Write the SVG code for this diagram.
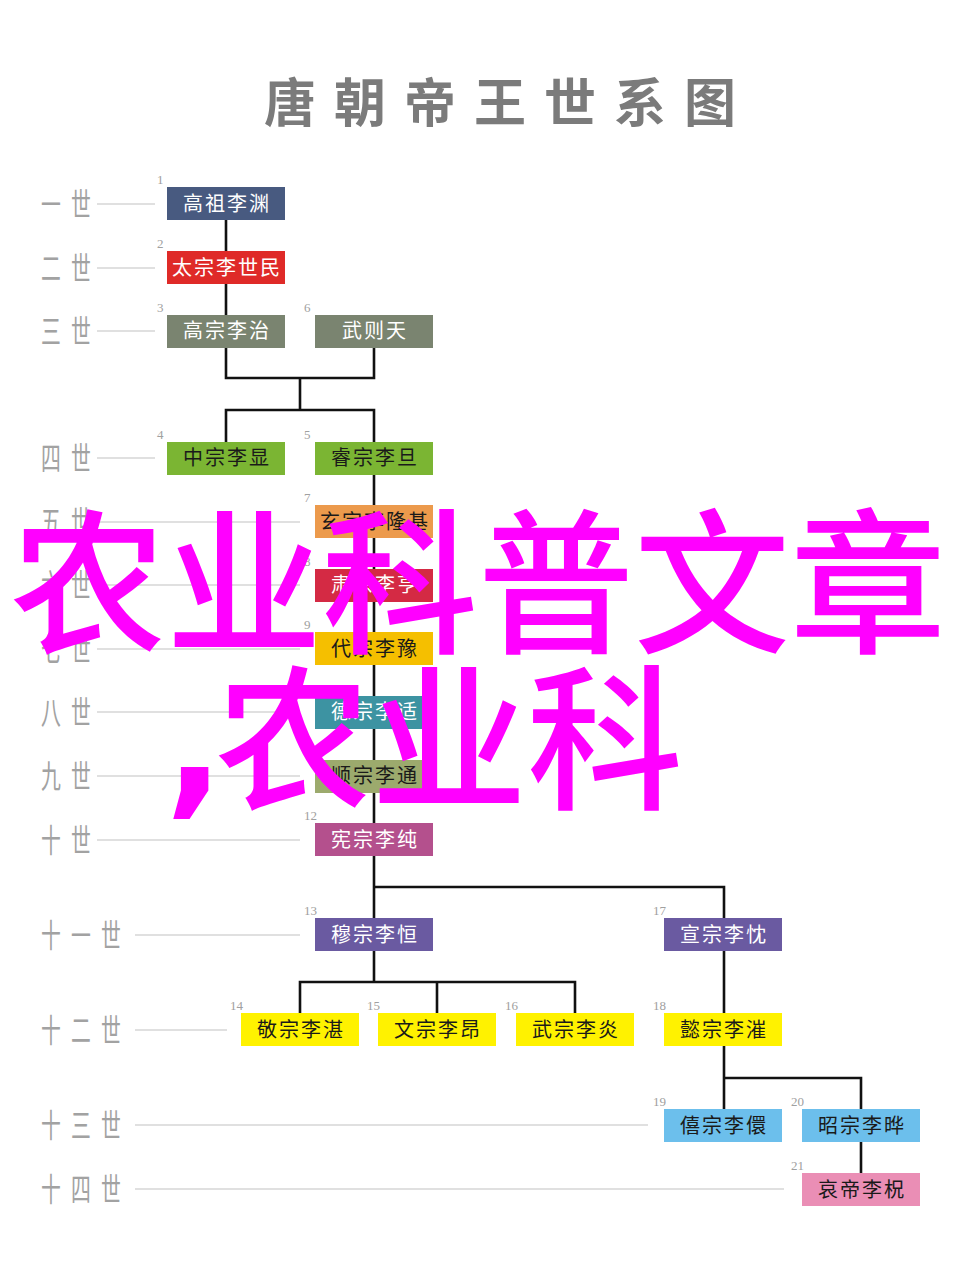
<svg xmlns="http://www.w3.org/2000/svg" width="960" height="1279" viewBox="0 0 960 1279">
<style>
.bg{fill:#ffffff}
.title{font-family:"Noto Sans CJK SC","Noto Sans CJK JP",sans-serif;font-size:52px;font-weight:700;fill:#7b7b7b;letter-spacing:18px}
.gen{font-family:"Noto Sans CJK SC","Noto Sans CJK JP",sans-serif;font-size:32px;font-weight:400;fill:#a2a2a2}
.gl{stroke:#d6d6d6;stroke-width:1.5;fill:none}
.num{font-family:"Liberation Serif",serif;font-size:13px;fill:#a0a0a0}
.box{stroke:none}
.nt{font-family:"Noto Sans CJK SC","Noto Sans CJK JP",sans-serif;font-size:20px;letter-spacing:2px;text-anchor:middle}
.w{fill:#ffffff}
.k{fill:#1a1a1a}
.conn{stroke:#111111;stroke-width:2.6;fill:none;stroke-linejoin:miter;stroke-linecap:square}
.ov{font-family:"Noto Sans CJK SC","Noto Sans CJK JP",sans-serif;font-size:156px;font-weight:500;fill:#ff00ff}
.cm{font-family:"DejaVu Sans",sans-serif;font-weight:700}
</style>
<rect class="bg" x="0" y="0" width="960" height="1279"/>
<text class="title" x="264" y="122">唐朝帝王世系图</text>

<g id="generations">
<g class="gen">
<text transform="translate(41,216) scale(0.62,1)" x="0 48.4">一世</text>
<text transform="translate(41,280) scale(0.62,1)" x="0 48.4">二世</text>
<text transform="translate(41,343) scale(0.62,1)" x="0 48.4">三世</text>
<text transform="translate(41,470) scale(0.62,1)" x="0 48.4">四世</text>
<text transform="translate(41,534) scale(0.62,1)" x="0 48.4">五世</text>
<text transform="translate(41,597) scale(0.62,1)" x="0 48.4">六世</text>
<text transform="translate(41,661) scale(0.62,1)" x="0 48.4">七世</text>
<text transform="translate(41,724) scale(0.62,1)" x="0 48.4">八世</text>
<text transform="translate(41,788) scale(0.62,1)" x="0 48.4">九世</text>
<text transform="translate(41,852) scale(0.62,1)" x="0 48.4">十世</text>
<text transform="translate(41,947) scale(0.62,1)" x="0 48.4 96.8">十一世</text>
<text transform="translate(41,1042) scale(0.62,1)" x="0 48.4 96.8">十二世</text>
<text transform="translate(41,1137) scale(0.62,1)" x="0 48.4 96.8">十三世</text>
<text transform="translate(41,1201) scale(0.62,1)" x="0 48.4 96.8">十四世</text>
</g>
<path class="gl" d="M97 204H155M97 268H155M97 331H155M97 458H155M97 522H300M97 585H300M97 649H300M97 712H300M97 776H300M97 840H300M135 935H300M135 1030H227M135 1125H648M135 1189H784"/>
</g>

<g id="connectors">
<path class="conn" d="M226 220V251M226 284V315M226 347V378H374V347M300 378V410M226 442V410H374V442M374 475V918M374 887H724V918M300 1013V982H575V1013M437 982V1013M374 951V982M724 951V1013M724 1046V1109M724 1078H861V1109M861 1142V1173"/>
</g>

<g id="n1"><rect class="box" x="167" y="187" width="118" height="33" fill="#485a80"/><text class="nt w" x="227" y="211">高祖李渊</text><text class="num" x="157" y="184">1</text></g>
<g id="n2"><rect class="box" x="167" y="251" width="118" height="33" fill="#df2a28"/><text class="nt w" x="227" y="275">太宗李世民</text><text class="num" x="157" y="248">2</text></g>
<g id="n3"><rect class="box" x="167" y="315" width="118" height="33" fill="#7a8470"/><text class="nt w" x="227" y="338">高宗李治</text><text class="num" x="157" y="312">3</text></g>
<g id="n6"><rect class="box" x="315" y="315" width="118" height="33" fill="#7a8470"/><text class="nt w" x="375" y="338">武则天</text><text class="num" x="304" y="312">6</text></g>
<g id="n4"><rect class="box" x="167" y="442" width="118" height="33" fill="#7bb533"/><text class="nt k" x="227" y="465">中宗李显</text><text class="num" x="157" y="439">4</text></g>
<g id="n5"><rect class="box" x="315" y="442" width="118" height="33" fill="#7bb533"/><text class="nt k" x="375" y="465">睿宗李旦</text><text class="num" x="304" y="439">5</text></g>
<g id="n7"><rect class="box" x="315" y="505" width="118" height="33" fill="#ec9a4c"/><text class="nt k" x="375" y="529">玄宗李隆基</text><text class="num" x="304" y="502">7</text></g>
<g id="n8"><rect class="box" x="315" y="569" width="118" height="33" fill="#d42a44"/><text class="nt w" x="375" y="592">肃宗李亨</text><text class="num" x="304" y="566">8</text></g>
<g id="n9"><rect class="box" x="315" y="632" width="118" height="33" fill="#f5bf00"/><text class="nt k" x="375" y="656">代宗李豫</text><text class="num" x="304" y="629">9</text></g>
<g id="n10"><rect class="box" x="315" y="696" width="118" height="33" fill="#3d93a2"/><text class="nt w" x="375" y="719">德宗李适</text><text class="num" x="304" y="693">10</text></g>
<g id="n11"><rect class="box" x="315" y="760" width="118" height="33" fill="#9caa6d"/><text class="nt k" x="375" y="783">顺宗李通</text><text class="num" x="304" y="757">11</text></g>
<g id="n12"><rect class="box" x="315" y="823" width="118" height="33" fill="#b4508d"/><text class="nt w" x="375" y="847">宪宗李纯</text><text class="num" x="304" y="820">12</text></g>
<g id="n13"><rect class="box" x="315" y="918" width="118" height="33" fill="#6a5aa1"/><text class="nt w" x="375" y="942">穆宗李恒</text><text class="num" x="304" y="915">13</text></g>
<g id="n17"><rect class="box" x="664" y="918" width="118" height="33" fill="#6a5aa1"/><text class="nt w" x="724" y="942">宣宗李忱</text><text class="num" x="653" y="915">17</text></g>
<g id="n14"><rect class="box" x="241" y="1013" width="118" height="33" fill="#fff200"/><text class="nt k" x="301" y="1037">敬宗李湛</text><text class="num" x="230" y="1010">14</text></g>
<g id="n15"><rect class="box" x="378" y="1013" width="118" height="33" fill="#fff200"/><text class="nt k" x="438" y="1037">文宗李昂</text><text class="num" x="367" y="1010">15</text></g>
<g id="n16"><rect class="box" x="516" y="1013" width="118" height="33" fill="#fff200"/><text class="nt k" x="576" y="1037">武宗李炎</text><text class="num" x="505" y="1010">16</text></g>
<g id="n18"><rect class="box" x="664" y="1013" width="118" height="33" fill="#fff200"/><text class="nt k" x="724" y="1037">懿宗李漼</text><text class="num" x="653" y="1010">18</text></g>
<g id="n19"><rect class="box" x="664" y="1109" width="118" height="33" fill="#6cbfec"/><text class="nt k" x="724" y="1133">僖宗李儇</text><text class="num" x="653" y="1106">19</text></g>
<g id="n20"><rect class="box" x="802" y="1109" width="118" height="33" fill="#6cbfec"/><text class="nt k" x="862" y="1133">昭宗李晔</text><text class="num" x="791" y="1106">20</text></g>
<g id="n21"><rect class="box" x="802" y="1173" width="118" height="33" fill="#ea8eb5"/><text class="nt k" x="862" y="1197">哀帝李柷</text><text class="num" x="791" y="1170">21</text></g>

<g id="overlay">
<text class="ov" x="10" y="641">农业科普文章</text>
<text class="ov" y="797"><tspan class="cm" x="165">,</tspan><tspan x="215">农业科</tspan></text>
</g>
</svg>
